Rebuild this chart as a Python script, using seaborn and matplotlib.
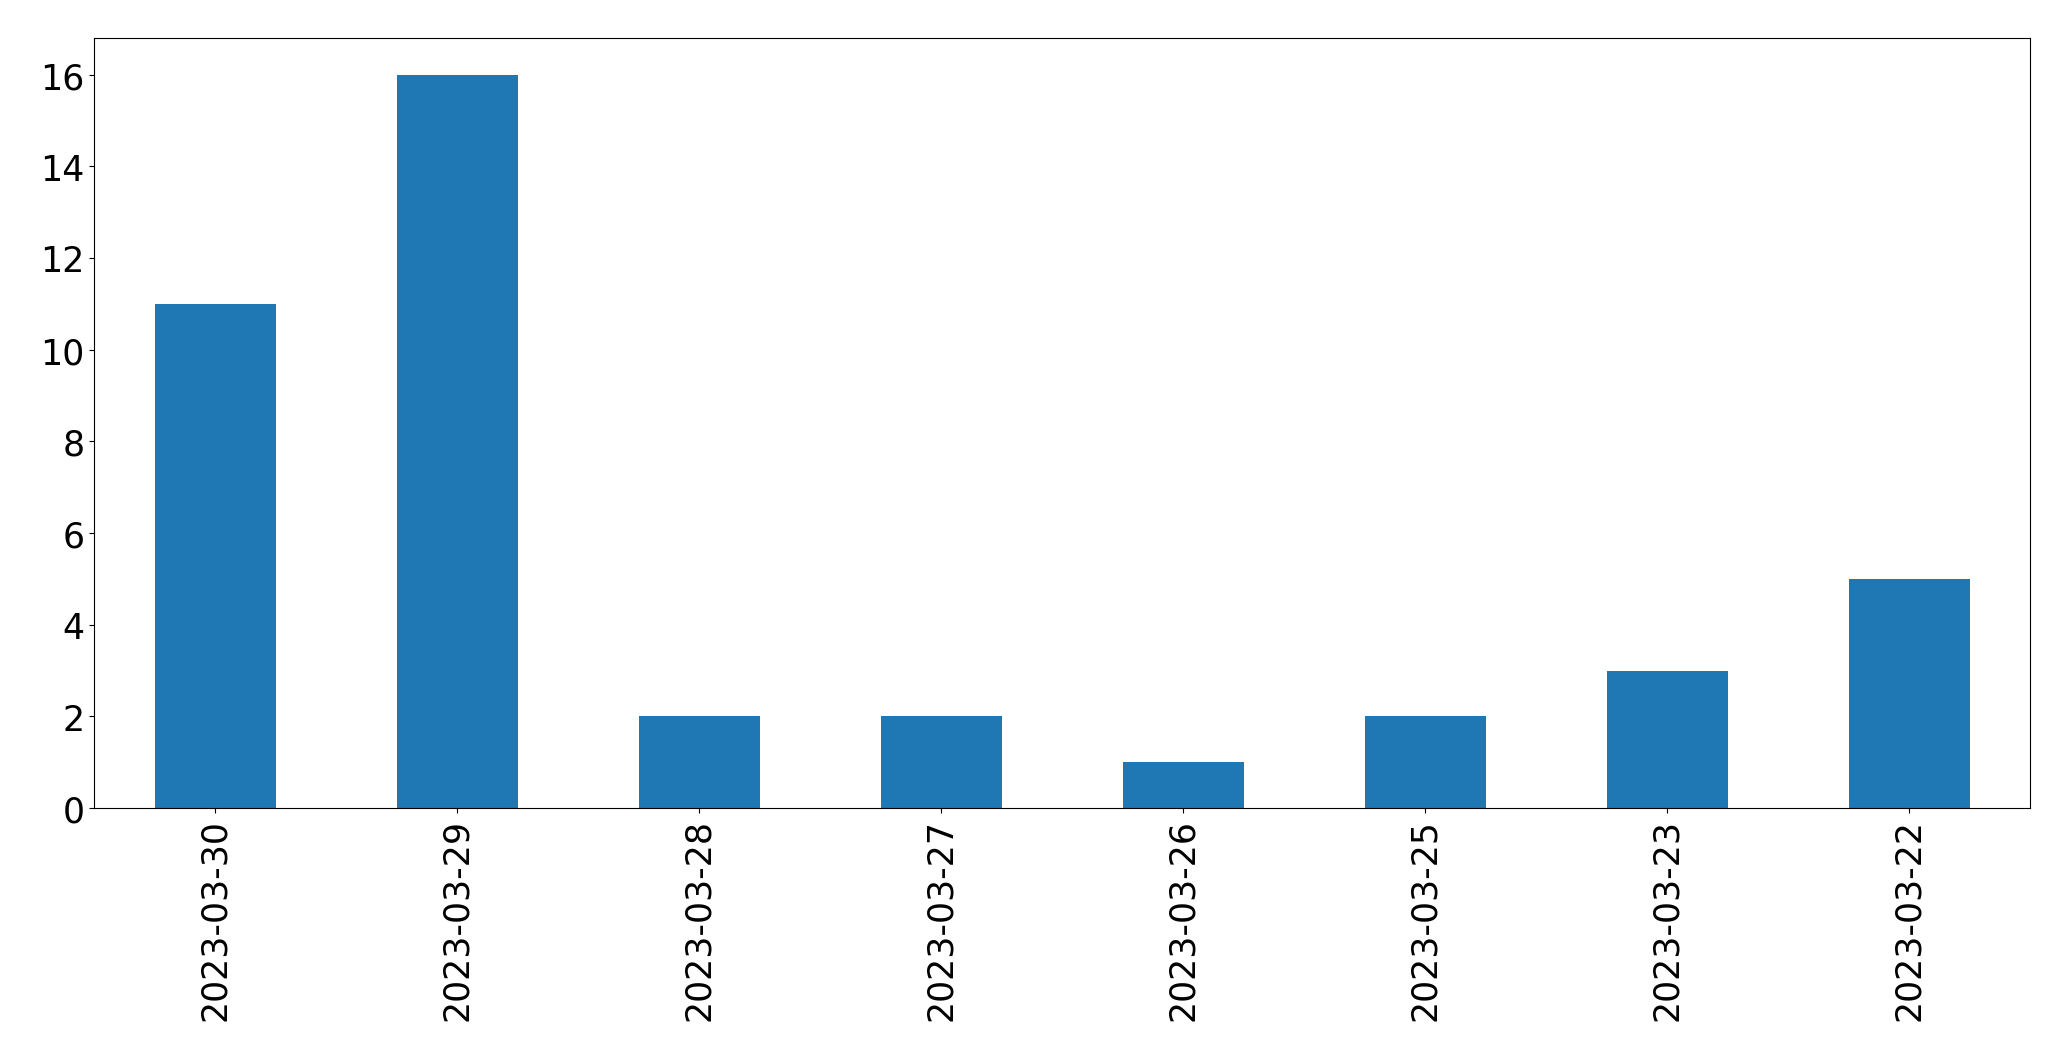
import matplotlib
matplotlib.use("Agg")
import matplotlib.pyplot as plt
import seaborn as sns
import pandas as pd

dates = ["2023-03-30", "2023-03-29", "2023-03-28", "2023-03-27",
         "2023-03-26", "2023-03-25", "2023-03-23", "2023-03-22"]
counts = [11, 16, 2, 2, 1, 2, 3, 5]

df = pd.DataFrame({"date": dates, "count": counts})

fig = plt.figure(figsize=(20.71, 10.609), dpi=100)
ax = fig.add_axes([94 / 2071, 1 - 809 / 1061, (2030 - 94) / 2071, (809 - 39) / 1061])
sns.barplot(data=df, x="date", y="count", order=dates, color="#1f77b4",
            saturation=1, width=0.5, ax=ax, edgecolor="none")
ax.set_xlim(-0.5, len(dates) - 0.5)
ax.set_ylim(0, 16.8)
ax.set_xlabel("")
ax.set_ylabel("")
ax.tick_params(axis="both", labelsize=25)
ax.tick_params(axis="x", labelrotation=90)
fig.savefig("out.png", dpi=100)
